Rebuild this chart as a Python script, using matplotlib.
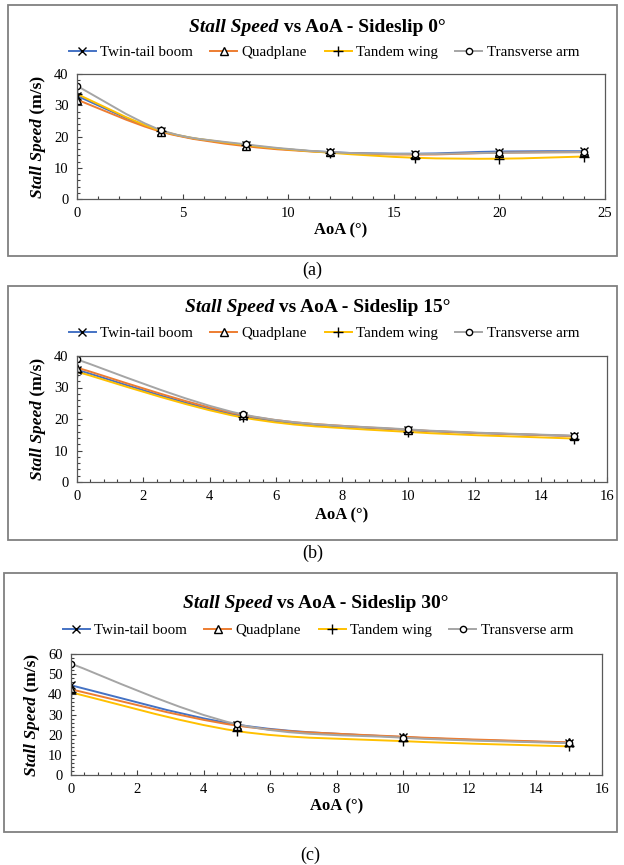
import matplotlib
matplotlib.use("Agg")
import matplotlib.pyplot as plt
import numpy as np
from matplotlib.path import Path
from matplotlib.patches import PathPatch, Rectangle
from matplotlib.lines import Line2D
from matplotlib.ticker import MultipleLocator

plt.rcParams['font.family'] = ['Liberation Serif', 'DejaVu Serif']

# stall speed (m/s) per configuration
series_names = ['Twin-tail boom', 'Quadplane', 'Tandem wing', 'Transverse arm']
series_colors = ['#4472C4', '#ED7D31', '#FFC000', '#A5A5A5']
series_markers = ['x', '^', '+', 'o']
series_msize = [5.5, 5.5, 7, 4.5]

# sideslip 0
aoa_0 = [0, 4, 8, 12, 16, 20, 24]
twin_0 = [33.0, 21.7, 17.2, 15.0, 14.5, 15.2, 15.3]
quad_0 = [31.8, 21.5, 16.9, 14.9, 14.2, 14.8, 15.0]
tandem_0 = [33.6, 21.8, 17.3, 14.8, 13.2, 12.9, 13.6]
trans_0 = [36.2, 22.0, 17.5, 15.0, 14.4, 14.8, 15.0]

# sideslip 15
aoa_15 = [0, 5, 10, 15]
twin_15 = [35.6, 20.9, 16.5, 14.6]
quad_15 = [36.3, 21.3, 16.6, 14.6]
tandem_15 = [35.0, 20.5, 15.9, 13.8]
trans_15 = [38.9, 21.5, 16.7, 14.7]

# sideslip 30
aoa_30 = [0, 5, 10, 15]
twin_30 = [44.5, 25.0, 18.8, 16.0]
quad_30 = [42.5, 24.5, 19.0, 16.2]
tandem_30 = [41.0, 21.8, 16.8, 14.2]
trans_30 = [55.2, 25.2, 18.5, 15.8]

W, H = 624, 865
fig = plt.figure(figsize=(W / 100, H / 100), dpi=100)


def fx(px):
    return px / W


def fy(py):
    return 1 - py / H


def smooth_path(x, y):
    # Catmull-Rom style cubic bezier through the points (like a spreadsheet "smoothed line")
    pts = np.column_stack([x, y]).astype(float)
    n = len(pts)
    verts = [pts[0]]
    codes = [Path.MOVETO]
    for i in range(n - 1):
        p0 = pts[i - 1] if i > 0 else pts[i]
        p1 = pts[i]
        p2 = pts[i + 1]
        p3 = pts[i + 2] if i + 2 < n else pts[i + 1]
        c1 = p1 + (p2 - p0) / 6.0
        c2 = p2 - (p3 - p1) / 6.0
        verts += [c1, c2, p2]
        codes += [Path.CURVE4] * 3
    return Path(verts, codes)


def marker_style(m, ms):
    return dict(marker=m, markersize=ms,
                markerfacecolor='white' if m in ('^', 'o') else 'black',
                markeredgecolor='black', markeredgewidth=1.0)


def panel(box, axrect, title_y, legend_xy, xlabel_y, cap_y, caption, sideslip,
          x, ys, xmax, xmajor, xminor, ymax, yminor):
    bl, bt, br, bb = box
    fig.patches.append(Rectangle((fx(bl), fy(bb)), fx(br - bl), (bb - bt) / H,
                                 transform=fig.transFigure, fill=False,
                                 edgecolor='#808080', linewidth=1.3))
    l, t, r, b = axrect
    ax = fig.add_axes([fx(l), fy(b), fx(r - l), (b - t) / H])
    for yv, c, m, ms in zip(ys, series_colors, series_markers, series_msize):
        ax.add_patch(PathPatch(smooth_path(x, yv), fill=False, edgecolor=c,
                               linewidth=1.4, transform=ax.transData))
        ax.plot(x, yv, linestyle='none', **marker_style(m, ms))
    ax.set_xlim(0, xmax)
    ax.set_ylim(0, ymax)
    ax.xaxis.set_major_locator(MultipleLocator(xmajor))
    ax.xaxis.set_minor_locator(MultipleLocator(xminor))
    ax.yaxis.set_major_locator(MultipleLocator(10))
    ax.yaxis.set_minor_locator(MultipleLocator(yminor))
    ax.tick_params(which='both', direction='in', width=0.8, labelsize=10.5,
                   color='#404040')
    ax.tick_params(which='major', length=3.5, pad=6)
    ax.tick_params(which='minor', length=2.5)
    for s in ax.spines.values():
        s.set_color('#595959')
        s.set_linewidth(0.9)

    renderer = fig.canvas.get_renderer()
    # title: italic bold "Stall Speed" followed by bold rest
    cx = fx((bl + br) / 2 + 5)
    t1 = fig.text(0, fy(title_y), 'Stall Speed', fontsize=14, fontweight='bold',
                  fontstyle='italic', va='center', ha='left')
    t2 = fig.text(0, fy(title_y), ' vs AoA - Sideslip %d°' % sideslip,
                  fontsize=14, fontweight='bold', va='center', ha='left')
    w1 = t1.get_window_extent(renderer).width / W
    w2 = t2.get_window_extent(renderer).width / W
    x0 = cx - (w1 + w2) / 2
    t1.set_x(x0)
    t2.set_x(x0 + w1)

    # y label in two styles
    ymid = fy((t + b) / 2)
    lx = fx(l - 39)
    y1 = fig.text(lx, 0, 'Stall Speed', fontsize=12.5, fontweight='bold',
                  fontstyle='italic', rotation=90, ha='center', va='bottom')
    y2 = fig.text(lx, 0, ' (m/s)', fontsize=12.5, fontweight='bold',
                  rotation=90, ha='center', va='bottom')
    h1 = y1.get_window_extent(renderer).height / H
    h2 = y2.get_window_extent(renderer).height / H
    y0 = ymid - (h1 + h2) / 2
    y1.set_y(y0)
    y2.set_y(y0 + h1)

    fig.text(fx((l + r) / 2), fy(xlabel_y), 'AoA (°)', fontsize=12,
             fontweight='bold', ha='center', va='center')
    fig.text(fx((bl + br) / 2), fy(cap_y), caption, fontsize=13,
             ha='center', va='center')

    handles = [Line2D([], [], color=c, linewidth=1.4, **marker_style(m, ms))
               for c, m, ms in zip(series_colors, series_markers, series_msize)]
    fig.legend(handles, series_names, loc='center', ncol=4, frameon=False,
               bbox_to_anchor=(fx(legend_xy[0]), fy(legend_xy[1])), fontsize=10.8,
               handlelength=1.8, columnspacing=1.15, handletextpad=0.3,
               borderaxespad=0, borderpad=0, numpoints=1)
    return ax


panel((8, 5, 617, 256), (77, 74, 605, 199), 28, (324, 52), 230, 270, '(a)', 0,
      aoa_0, [twin_0, quad_0, tandem_0, trans_0], 25, 5, 1, 40, 2)
panel((8, 286, 617, 540), (77, 356, 607, 482), 307, (324, 333), 515, 553, '(b)', 15,
      aoa_15, [twin_15, quad_15, tandem_15, trans_15], 16, 2, 0.4, 40, 2)
panel((4, 573, 617, 832), (71, 654, 602, 775), 603, (318, 630), 806, 855, '(c)', 30,
      aoa_30, [twin_30, quad_30, tandem_30, trans_30], 16, 2, 0.4, 60, 2)

fig.savefig('out.png', dpi=100)
